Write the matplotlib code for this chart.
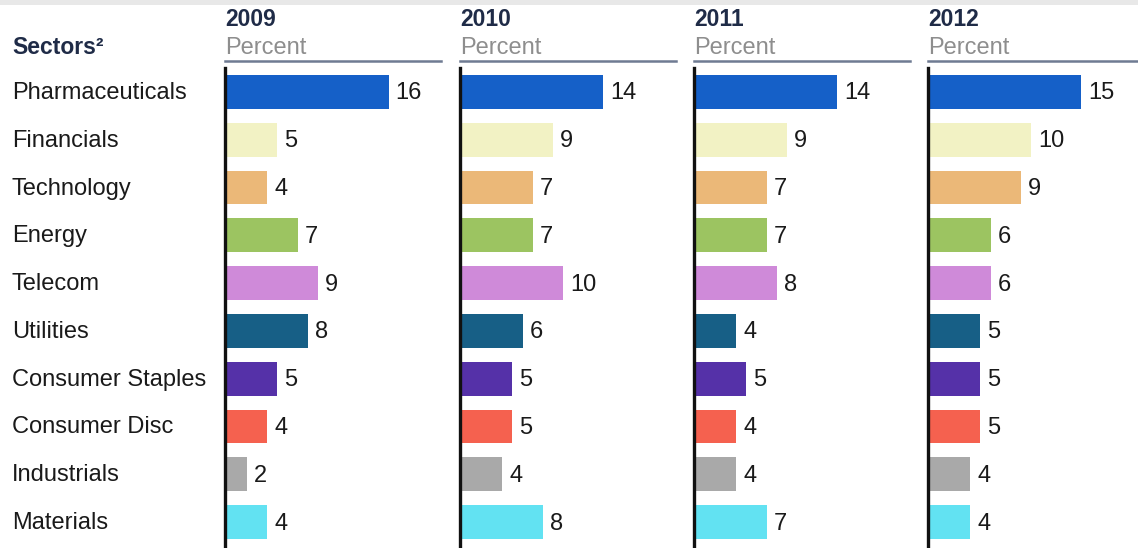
import matplotlib
matplotlib.use("Agg")
from matplotlib import pyplot as plt
from matplotlib.patches import Rectangle
from matplotlib.lines import Line2D

plt.rcParams['font.family'] = ['Liberation Sans', 'DejaVu Sans']

# sector mix by year, percent
sectors = ['Pharmaceuticals', 'Financials', 'Technology', 'Energy', 'Telecom',
           'Utilities', 'Consumer Staples', 'Consumer Disc', 'Industrials', 'Materials']
years = ['2009', '2010', '2011', '2012']
pct_2009 = [16, 5, 4, 7, 9, 8, 5, 4, 2, 4]
pct_2010 = [14, 9, 7, 7, 10, 6, 5, 5, 4, 8]
pct_2011 = [14, 9, 7, 7, 8, 4, 5, 4, 4, 7]
pct_2012 = [15, 10, 9, 6, 6, 5, 5, 5, 4, 4]
colors = ['#1560c8', '#f2f2c4', '#ebb878', '#9cc461', '#cf8ad9',
          '#175f86', '#5531a8', '#f5614f', '#a9a9a9', '#62e2f2']

W, H = 1138, 548
fig = plt.figure(figsize=(W / 100, H / 100), dpi=100)
fig.patch.set_facecolor('white')

# faint band along the top edge
fig.patches.append(Rectangle((0, 1 - 5 / H), 1, 5 / H, transform=fig.transFigure,
                             facecolor='#e8e8e8', edgecolor='none'))

navy = '#1f2b47'
fs = 17

fig.text(12 / W, 1 - 47 / H, 'Sectors²', fontsize=fs - 0.5, fontweight='bold', color=navy,
         ha='left', va='center')

panel_x = [225, 460, 694, 928]
panel_w = 216
ax_top, ax_bot = 68, 546
data = [pct_2009, pct_2010, pct_2011, pct_2012]

for i, (yr, vals) in enumerate(zip(years, data)):
    x0 = panel_x[i]
    ax = fig.add_axes([x0 / W, 1 - ax_bot / H, panel_w / W, (ax_bot - ax_top) / H])
    ax.barh(range(len(sectors)), vals, height=0.71, left=0.2, color=colors)
    for j, v in enumerate(vals):
        ax.text(v + 0.2 + 0.7, j + 0.03, str(v), fontsize=fs, color='#1a1a1a',
                ha='left', va='center')
    ax.set_xlim(0, 21.4)
    ax.set_ylim(len(sectors) - 0.5, -0.5)
    for s in ['top', 'right', 'bottom']:
        ax.spines[s].set_visible(False)
    ax.spines['left'].set_linewidth(2.4)
    ax.spines['left'].set_color('#111111')
    ax.set_xticks([])
    ax.set_yticks([])
    ax.patch.set_alpha(0)

    fig.text(x0 / W, 1 - 20 / H, yr, fontsize=fs - 0.5, fontweight='bold', color=navy,
             ha='left', va='center')
    fig.text(x0 / W, 1 - 48 / H, 'Percent', fontsize=fs, color='#8e8e8e',
             ha='left', va='center')
    x1 = W if i == len(years) - 1 else x0 + panel_w
    fig.lines.append(Line2D([x0 / W, x1 / W], [1 - 61 / H, 1 - 61 / H],
                            transform=fig.transFigure, color='#6f7b92', lw=1.8))

# category labels down the left side
row_top, row_step = 93, (522 - 92) / 9
for j, name in enumerate(sectors):
    fig.text(12 / W, 1 - (row_top + j * row_step) / H, name, fontsize=fs,
             color='#1a1a1a', ha='left', va='center')

fig.savefig('out.png', dpi=100, facecolor='white')
